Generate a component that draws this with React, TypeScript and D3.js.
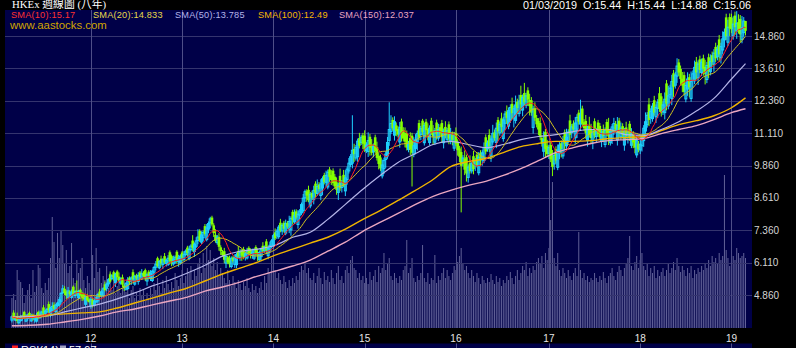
import React from 'react';
import * as d3 from 'd3';

// ---- weekly candles (25 Feb 2011 .. 1 Mar 2019) ----
const opens = [
3.89,4.18,3.89,4.04,3.79,3.87,3.96,4.20,3.85,3.95,
4.17,3.86,4.10,3.92,3.85,4.20,3.99,4.07,4.38,4.15,
4.21,4.51,4.15,4.27,4.48,4.22,4.45,4.48,4.62,4.95,
5.10,4.99,4.77,5.00,4.77,5.18,4.84,5.03,4.75,5.06,
4.88,4.90,4.50,4.81,4.69,4.43,4.68,4.47,4.60,4.63,
4.99,4.87,4.83,5.27,5.12,5.29,5.66,5.49,5.74,5.33,
5.77,5.57,5.32,5.54,5.23,5.08,5.11,5.53,5.41,5.74,
5.28,5.62,5.38,5.73,5.50,5.72,5.82,5.40,5.76,5.52,
5.42,5.74,5.93,6.28,5.91,6.26,6.04,6.36,6.08,6.04,
6.51,6.36,6.06,6.13,6.53,6.15,6.10,6.50,6.23,6.42,
6.69,6.27,6.61,6.96,6.54,6.74,6.96,7.33,6.90,7.07,
7.52,7.00,7.40,7.65,7.85,7.55,7.18,6.88,7.10,6.70,
6.53,6.55,6.09,6.32,6.25,5.96,6.31,6.04,6.03,6.55,
6.31,6.58,6.63,6.32,6.29,6.68,6.60,6.39,6.28,6.71,
6.52,6.22,6.34,6.76,6.56,6.93,6.38,6.57,6.74,6.80,
7.28,7.17,7.11,7.65,7.33,7.65,7.25,7.65,7.40,7.37,
8.07,7.68,8.09,7.58,7.94,8.03,8.12,8.61,8.86,8.92,
8.30,8.80,8.54,9.16,8.78,9.13,8.70,8.99,9.49,9.21,
9.03,9.71,9.49,9.66,9.43,9.21,8.82,9.46,9.01,9.50,
8.88,9.32,9.65,9.90,9.95,10.50,10.15,10.20,10.92,10.75,
11.02,11.01,10.44,10.40,10.97,10.67,10.39,10.95,10.57,10.24,
10.17,9.46,9.74,10.09,10.23,10.83,11.17,11.62,11.03,11.41,
11.27,10.77,11.56,11.23,11.11,11.10,10.48,10.92,11.01,10.29,
10.52,10.77,11.50,11.06,11.59,10.74,11.55,11.27,10.75,11.59,
11.20,10.76,11.52,10.92,11.34,11.50,10.74,11.35,10.87,11.45,
10.79,11.06,10.53,11.12,10.77,10.52,10.38,9.94,10.12,10.18,
9.40,9.95,9.65,10.22,9.85,10.28,9.58,10.35,10.15,10.05,
10.95,10.50,11.04,10.22,10.77,11.14,10.75,11.62,11.12,11.68,
10.90,11.49,11.94,11.38,11.62,12.24,11.69,11.60,12.32,11.87,
12.58,12.00,12.66,12.19,12.76,12.39,12.38,11.33,12.06,11.69,
11.58,11.50,10.92,10.41,11.16,10.63,10.33,10.65,10.24,9.92,
10.49,9.79,10.32,10.72,10.23,11.14,10.62,10.82,11.60,11.13,
11.48,10.93,11.26,11.90,11.46,12.06,11.53,11.58,10.82,11.40,
11.25,10.82,11.57,10.98,11.52,11.39,10.79,11.22,10.67,11.54,
11.20,10.74,10.91,11.15,11.47,10.85,11.59,10.97,11.38,10.65,
11.33,10.93,11.47,10.64,11.08,10.88,10.27,10.70,10.46,10.62,
10.82,11.19,11.44,12.22,11.71,11.67,12.38,11.74,12.06,12.65,
12.53,11.94,11.90,13.03,12.16,12.59,12.45,13.42,12.96,13.31,
13.84,13.59,13.21,13.35,12.43,12.81,13.27,12.45,13.14,13.13,
13.86,13.24,13.96,13.45,14.00,13.67,13.18,14.04,13.48,14.12,
13.77,14.44,14.06,14.73,14.02,14.32,14.71,15.58,14.62,15.59,
15.57,14.87,15.65,15.05,15.40,15.52,14.73,14.99,15.44];

const highs = [
4.07,4.27,4.03,4.18,3.97,4.09,4.10,4.25,4.12,4.13,
4.22,4.13,4.14,4.06,4.16,4.25,4.26,4.25,4.47,4.29,
4.36,4.61,4.40,4.58,4.58,4.52,4.60,4.78,4.97,5.25,
5.20,5.04,5.17,5.05,5.07,5.23,5.04,5.42,5.05,5.11,
4.98,4.95,4.85,4.91,4.74,4.83,4.73,4.72,4.80,4.93,
5.10,5.04,5.16,5.38,5.34,5.51,5.77,5.66,5.80,5.72,
5.83,5.73,5.54,5.65,5.29,5.36,5.55,5.58,5.58,5.85,
5.64,5.68,5.74,5.79,5.86,5.78,5.88,5.70,5.82,5.82,
5.84,5.98,6.17,6.34,6.21,6.38,6.28,6.48,6.26,6.40,
6.58,6.42,6.38,6.39,6.59,6.41,6.43,6.56,6.55,6.62,
6.76,6.76,6.82,7.17,6.89,7.09,7.40,7.40,7.32,7.35,
7.60,7.60,7.70,7.88,7.92,7.63,7.40,7.18,7.25,6.78,
6.60,6.68,6.42,6.38,6.38,6.35,6.38,6.43,6.49,6.75,
6.63,6.64,6.72,6.52,6.68,6.74,6.66,6.65,6.67,6.78,
6.66,6.57,6.69,6.90,6.77,7.02,6.73,6.92,7.02,7.22,
7.43,7.40,7.56,7.80,7.63,7.72,7.77,7.72,7.92,7.90,
8.15,8.16,8.17,8.14,8.18,8.43,8.76,8.93,8.94,9.08,
8.84,8.89,9.08,9.25,9.32,9.22,9.33,9.44,9.58,9.66,
9.70,9.80,9.68,9.75,9.53,9.40,9.20,9.74,9.30,9.69,
9.68,9.82,10.15,10.30,11.80,10.70,10.65,10.90,11.12,11.05,
11.12,11.22,10.76,11.14,11.08,10.88,10.71,11.05,10.78,10.34,
10.28,10.09,10.16,10.41,10.96,12.30,11.80,11.72,11.76,11.52,
11.38,11.54,11.67,11.34,11.33,11.21,10.81,11.14,11.12,10.95,
11.07,11.21,11.62,11.39,11.66,11.51,11.66,11.49,11.41,11.70,
11.42,11.31,11.63,11.47,11.45,11.62,11.29,11.57,11.31,11.56,
11.31,11.17,11.16,11.33,10.87,10.62,10.59,10.26,10.44,10.28,
9.90,10.25,10.05,10.42,10.15,10.38,10.38,10.45,10.45,10.75,
11.06,10.83,11.26,10.99,11.43,11.25,11.52,11.73,11.56,11.90,
11.74,11.97,12.18,12.10,12.22,12.48,12.17,12.56,12.44,12.59,
12.94,12.60,13.05,12.67,12.88,12.63,12.50,12.17,12.30,11.81,
11.69,11.72,11.03,11.18,11.27,10.85,10.66,10.76,10.46,10.36,
10.60,10.67,10.76,10.83,11.00,11.25,11.28,11.26,11.82,11.46,
11.60,11.73,11.84,12.01,12.40,12.17,11.65,11.81,11.40,11.74,
11.47,11.26,11.68,11.31,11.62,11.50,11.23,11.44,11.33,11.65,
11.70,11.29,11.46,11.70,11.58,11.73,11.70,11.52,11.49,11.31,
11.55,11.26,11.58,11.30,11.19,10.99,11.04,10.81,10.85,11.06,
11.42,11.91,11.92,12.46,12.07,12.27,12.55,12.22,12.42,12.89,
12.66,12.33,12.68,13.16,12.94,12.98,13.36,13.55,13.48,14.00,
13.97,13.72,13.47,13.48,13.08,13.46,13.40,13.49,13.53,13.91,
14.05,13.92,14.10,13.99,14.14,13.94,13.86,14.18,14.15,14.26,
14.35,14.60,14.50,14.90,14.60,15.04,15.15,15.72,15.49,15.73,
15.72,15.62,15.80,15.82,15.70,15.67,15.63,15.59,15.44];

const lows = [
3.80,3.91,3.85,3.77,3.72,3.83,3.87,3.93,3.81,3.86,
3.95,3.82,3.87,3.79,3.80,3.93,3.94,4.02,4.06,4.06,
4.16,4.16,4.00,4.22,4.23,4.17,4.40,4.38,4.52,4.90,
4.85,4.69,4.72,4.80,4.72,4.83,4.74,4.83,4.70,4.81,
4.63,4.65,4.40,4.61,4.54,4.33,4.38,4.42,4.55,4.53,
4.77,4.76,4.78,5.00,5.01,5.18,5.33,5.44,5.41,5.17,
5.44,5.35,5.26,5.15,5.01,5.03,5.06,5.25,5.25,5.41,
5.22,5.44,5.26,5.43,5.44,5.54,5.40,5.22,5.52,5.40,
5.36,5.62,5.81,5.92,5.85,5.96,5.86,6.06,5.96,5.98,
6.05,5.97,5.99,6.06,6.07,5.95,6.03,6.17,6.16,6.35,
6.34,6.20,6.54,6.54,6.33,6.67,6.82,6.91,6.83,6.93,
7.15,6.93,7.25,7.43,7.51,7.10,6.88,6.80,6.57,6.40,
6.34,6.09,5.90,6.05,5.92,5.89,6.11,5.91,5.90,6.29,
6.18,6.18,6.24,6.19,6.23,6.42,6.27,6.26,6.21,6.39,
6.17,6.15,6.20,6.48,6.49,6.44,6.24,6.50,6.67,6.66,
6.98,7.02,7.03,7.28,7.18,7.27,7.17,7.42,7.25,7.15,
7.59,7.60,7.77,7.42,7.78,7.95,8.04,8.45,8.46,8.44,
8.21,8.53,8.36,8.62,8.69,8.86,8.52,8.72,9.13,9.03,
8.94,9.23,9.11,9.08,8.96,8.73,8.53,8.88,8.82,9.03,
8.68,9.12,9.55,9.80,9.75,10.00,10.05,10.00,10.52,10.65,
10.49,10.38,10.34,10.19,10.24,10.25,10.18,10.32,10.05,9.71,
9.65,9.36,9.53,9.77,10.12,10.62,11.07,11.20,10.82,10.99,
10.94,10.55,10.79,10.79,10.56,10.44,10.37,10.26,9.05,10.18,
10.30,10.44,10.84,10.84,11.04,10.63,11.00,10.83,10.64,11.04,
10.65,10.65,10.86,10.81,11.01,10.73,10.52,10.91,10.76,10.68,
10.68,10.64,10.42,10.60,10.24,9.99,8.05,9.83,9.49,9.24,
9.20,9.55,9.55,9.52,9.65,9.78,9.48,9.85,9.85,9.95,
10.29,10.39,10.38,10.00,10.66,10.81,10.53,10.85,11.01,11.13,
10.78,11.25,11.46,11.26,11.50,11.64,11.33,11.48,11.84,11.75,
11.98,11.76,12.18,12.07,12.16,11.79,11.78,11.09,11.58,11.33,
11.03,10.84,10.59,10.19,10.17,10.19,10.11,9.99,9.45,9.70,
9.94,9.68,10.10,10.17,10.12,10.48,10.51,10.71,10.83,10.91,
11.14,10.70,10.92,11.44,11.23,11.37,11.19,10.89,10.59,10.94,
10.70,10.49,10.91,10.76,10.97,10.84,10.57,10.78,10.56,10.99,
10.65,10.63,10.69,11.04,11.14,10.63,10.93,10.86,10.94,10.43,
10.89,10.71,10.81,10.53,10.53,10.33,10.16,10.37,10.30,10.40,
10.58,11.07,11.32,11.38,11.47,11.55,11.78,11.50,11.70,11.93,
11.75,11.81,11.64,11.99,12.03,12.46,12.19,12.51,12.83,13.05,
13.32,12.94,12.69,12.57,12.30,12.55,12.49,12.32,12.88,13.00,
13.18,12.97,13.42,13.31,13.33,12.99,13.04,13.23,13.34,13.71,
13.48,13.86,13.92,13.86,13.80,14.17,14.42,14.71,14.47,14.86,
14.97,14.72,14.90,14.75,14.95,14.62,14.58,14.84,14.88];

const closes = [
4.02,3.95,3.98,3.86,3.92,4.00,4.05,3.97,4.03,4.08,
3.99,4.04,3.96,4.01,4.07,4.02,4.12,4.20,4.15,4.24,
4.31,4.26,4.35,4.42,4.33,4.47,4.55,4.68,4.92,5.10,
4.95,4.84,5.02,4.90,4.97,4.88,4.99,4.93,5.00,4.86,
4.78,4.70,4.80,4.66,4.59,4.68,4.48,4.62,4.75,4.88,
4.82,4.98,5.10,5.05,5.28,5.45,5.38,5.60,5.52,5.66,
5.55,5.40,5.48,5.26,5.12,5.30,5.44,5.36,5.52,5.46,
5.58,5.50,5.62,5.55,5.68,5.60,5.52,5.64,5.58,5.70,
5.78,5.92,6.05,5.98,6.15,6.08,6.22,6.12,6.20,6.28,
6.18,6.10,6.25,6.32,6.20,6.28,6.36,6.30,6.42,6.55,
6.48,6.62,6.75,6.68,6.82,6.95,7.10,6.98,7.18,7.28,
7.22,7.45,7.62,7.80,7.58,7.25,6.95,7.10,6.72,6.55,
6.40,6.22,6.35,6.12,6.05,6.28,6.18,6.30,6.42,6.35,
6.50,6.38,6.30,6.45,6.55,6.48,6.40,6.52,6.60,6.45,
6.38,6.50,6.62,6.55,6.70,6.58,6.66,6.78,6.95,7.15,
7.05,7.32,7.48,7.35,7.55,7.42,7.62,7.50,7.70,7.82,
7.75,7.92,7.85,7.98,8.10,8.35,8.60,8.85,8.70,8.52,
8.75,8.62,8.90,8.80,9.05,8.95,9.15,9.35,9.22,9.48,
9.60,9.42,9.30,9.18,9.05,8.92,9.10,8.98,9.20,9.12,
9.38,9.72,9.95,10.20,10.45,10.30,10.55,10.80,10.62,10.95,
10.70,10.48,10.65,10.82,10.55,10.35,10.60,10.42,10.15,9.92,
9.75,9.88,10.05,10.30,10.75,11.25,11.48,11.30,11.55,11.20,
11.05,11.32,11.12,10.90,10.78,10.55,10.70,10.48,10.35,10.62,
10.85,11.10,10.95,11.28,11.15,11.40,11.22,11.05,11.30,11.15,
10.98,11.20,11.08,11.25,11.12,10.95,11.18,11.02,11.20,10.90,
11.10,10.85,11.05,10.70,10.45,10.20,9.85,10.15,9.70,9.55,
9.80,9.65,9.95,9.72,10.05,9.88,10.18,10.05,10.35,10.55,
10.40,10.72,10.60,10.88,11.10,10.92,11.30,11.18,11.45,11.35,
11.62,11.85,11.70,11.98,12.10,11.88,12.05,12.20,12.08,12.35,
12.22,12.48,12.30,12.55,12.40,12.15,11.90,12.05,11.70,11.45,
11.25,10.95,10.70,10.85,10.50,10.30,10.55,10.10,9.80,10.25,
10.05,10.45,10.65,10.50,10.78,10.70,10.95,11.15,11.05,11.35,
11.25,11.50,11.72,11.55,11.80,11.48,11.30,11.12,11.28,11.05,
10.92,11.15,11.02,11.20,11.08,10.95,11.12,11.00,11.22,11.10,
10.98,11.18,11.35,11.48,11.25,11.40,11.15,11.30,11.05,11.20,
11.00,11.15,10.92,11.08,10.75,10.55,10.82,10.48,10.68,10.95,
11.30,11.55,11.80,11.62,11.95,12.15,11.90,12.10,12.30,12.05,
11.88,12.20,12.42,12.25,12.55,12.85,13.10,12.90,13.35,13.70,
13.45,13.20,12.95,12.70,12.95,13.20,12.88,13.10,13.40,13.65,
13.45,13.78,13.55,13.85,13.60,13.40,13.72,13.50,13.88,13.85,
14.20,14.00,14.35,14.15,14.45,14.75,15.00,14.85,15.20,15.15,
15.12,15.32,15.20,15.35,15.10,14.92,15.18,15.44,15.06];

const volumes = [
30,34,28,58,48,46,40,25,32,38,
44,30,58,36,42,63,60,40,35,45,
38,50,70,111,86,60,95,70,98,83,
65,78,55,62,85,50,45,68,55,60,
70,48,40,52,45,38,73,50,80,56,
60,45,52,48,62,40,55,38,50,35,
42,46,35,40,48,36,44,30,38,42,
30,36,28,40,33,38,27,35,30,40,
34,45,38,50,42,35,48,40,52,44,
38,46,40,55,48,42,50,58,45,52,
60,55,62,48,58,52,65,70,55,75,
60,82,68,78,62,70,58,66,52,60,
55,50,45,58,48,42,52,46,40,48,
44,38,46,42,50,40,36,44,38,42,
35,40,46,38,52,45,60,55,70,62,
58,50,55,48,44,52,46,40,48,42,
50,45,52,48,56,62,58,66,55,60,
50,48,55,45,52,60,50,44,56,48,
52,46,58,50,44,55,62,48,52,45,
58,62,55,68,72,60,58,50,55,48,
52,45,50,44,56,48,52,58,46,62,
55,60,75,58,65,70,52,48,55,50,
45,52,48,58,62,88,55,60,70,50,
46,52,48,55,83,50,46,55,44,50,
48,73,45,52,48,55,60,50,58,52,
48,55,62,58,66,72,80,65,58,62,
55,50,58,52,46,55,50,44,52,48,
45,50,46,54,48,44,52,46,50,42,
48,45,52,48,56,50,44,52,58,48,
55,62,58,66,52,60,55,62,58,66,
70,65,72,60,75,68,80,108,146,70,
62,75,58,52,60,55,50,58,52,48,
55,60,52,96,58,50,55,48,52,46,
50,48,55,50,46,52,48,56,50,45,
52,55,60,52,48,56,62,58,52,60,
65,70,92,62,58,66,72,60,68,75,
62,58,65,52,60,55,62,50,58,52,
56,60,52,58,64,55,60,66,58,70,
62,56,62,58,52,60,55,62,50,58,
54,60,56,62,58,65,60,68,62,72,
66,70,64,75,68,72,153,78,70,62,
66,72,68,80,75,70,72,75,70];

// long averages, one value every 10 weeks (plus the last week)
const smaSampleWeeks = [0,10,20,30,40,50,60,70,80,90,100,110,120,130,140,150,160,170,180,190,200,
  210,220,230,240,250,260,270,280,290,300,310,320,330,340,350,360,370,380,390,400,410,418];
const sma50 = [4.01,4.03,4.05,4.21,4.36,4.51,4.71,4.94,5.21,5.44,5.71,6.01,6.36,6.55,6.63,6.78,7.09,7.28,
  7.78,8.36,8.94,9.48,9.98,10.32,10.67,10.79,10.67,10.55,10.67,10.86,10.98,11.05,11.17,11.25,11.25,11.05,
  11.02,11.25,11.55,11.96,12.45,13.20,13.79];
const sma100 = [4.01,4.05,4.09,4.13,4.17,4.21,4.36,4.55,4.74,4.94,5.13,5.40,5.67,5.90,6.13,6.40,6.63,6.86,
  7.09,7.40,7.78,8.13,8.51,8.90,9.32,9.82,10.01,10.13,10.36,10.59,10.71,10.79,10.79,10.82,10.90,10.94,
  10.98,11.21,11.44,11.59,11.78,12.09,12.47];
const sma150 = [3.67,3.69,3.73,3.82,3.92,4.05,4.21,4.32,4.48,4.63,4.78,5.01,5.17,5.36,5.59,5.78,5.98,6.21,
  6.55,6.90,7.32,7.67,8.01,8.36,8.67,8.90,9.09,9.25,9.48,9.74,10.05,10.36,10.55,10.71,10.82,10.86,
  10.90,11.09,11.25,11.40,11.63,11.90,12.05];

const yTicks = [4.86, 6.11, 7.36, 8.61, 9.86, 11.11, 12.36, 13.61, 14.86];

const legend = [
  { label: 'SMA(10):15.17', color: '#ff3030', x: 11 },
  { label: 'SMA(20):14.833', color: '#e6d94a', x: 93 },
  { label: 'SMA(50):13.785', color: '#b4b4e8', x: 175 },
  { label: 'SMA(100):12.49', color: '#f5b800', x: 258 },
  { label: 'SMA(150):12.037', color: '#eaa6c0', x: 339 },
];

const NAVY = '#000048';
const CYAN = '#1ed2ff';
const LIME = '#84ff00';
const SANS = '"Liberation Sans", Arial, sans-serif';

export default function App() {
  const n = closes.length;
  const L = 5, R = 752, T = 10, B = 328;
  const dates = d3.timeFriday.range(new Date(2011, 1, 25), new Date(2019, 2, 2));
  const x = d3.scaleLinear().domain([0, n - 1]).range([11.9, 745.5]);
  const y = d3.scaleLinear().domain([4.86, 14.86]).range([295, 36]);
  const yVol = d3.scaleLinear().domain([0, 160]).range([B, B - 160]);

  const movAvg = (k: number) =>
    closes.map((_, i) => d3.mean(closes.slice(Math.max(0, i - k + 1), i + 1)) as number);
  const sma10 = movAvg(10);
  const sma20 = movAvg(20);

  const lineIdx = d3.line<number>().x((_, i) => x(i)).y((v) => y(v));
  const lineSamp = d3
    .line<number>()
    .x((_, i) => x(smaSampleWeeks[i]))
    .y((v) => y(v))
    .curve(d3.curveMonotoneX);

  const yearIdx: number[] = [];
  dates.forEach((d, i) => {
    if (i > 0 && d.getFullYear() !== dates[i - 1].getFullYear()) yearIdx.push(i);
  });
  const fmtYear = d3.timeFormat('%y');

  return (
    <svg
      width={796}
      height={348}
      style={{ position: 'absolute', left: 0, top: 0, background: '#000', display: 'block' }}
    >
      <defs>
        <clipPath id="plotClip">
          <rect x={L} y={T} width={R - L} height={B - T} />
        </clipPath>
      </defs>
      <rect x={0} y={0} width={796} height={348} fill="#000" />
      <rect x={L} y={T} width={R - L} height={B - T} fill={NAVY} />

      <g clipPath="url(#plotClip)">
        {volumes.map((v, i) => (
          <line key={'v' + i} x1={x(i)} x2={x(i)} y1={B} y2={yVol(v)} stroke="#7272a6" strokeWidth={1} opacity={0.85} />
        ))}
        {yTicks.map((t) => (
          <line key={'h' + t} x1={L} x2={R} y1={Math.round(y(t)) + 0.5} y2={Math.round(y(t)) + 0.5} stroke="#34346e" strokeWidth={1} />
        ))}
        {yearIdx.map((i) => (
          <line key={'g' + i} x1={Math.round(x(i)) + 0.5} x2={Math.round(x(i)) + 0.5} y1={T} y2={B} stroke="#4e4e88" strokeWidth={1} />
        ))}
        {closes.map((c, i) => {
          const o = opens[i];
          const up = c >= o;
          const col = up ? CYAN : LIME;
          const cx = x(i);
          const top = y(Math.max(o, c));
          const h = Math.max(1, Math.abs(y(o) - y(c)));
          return (
            <g key={'c' + i}>
              <line x1={cx} x2={cx} y1={y(highs[i])} y2={y(lows[i])} stroke={col} strokeWidth={1} />
              {up ? (
                <rect x={cx - 1} y={top} width={2} height={h} fill="none" stroke={col} strokeWidth={1} />
              ) : (
                <rect x={cx - 1.3} y={top} width={2.6} height={h} fill={col} />
              )}
            </g>
          );
        })}
        <path d={lineSamp(sma150) || ''} fill="none" stroke="#eaa6c0" strokeWidth={1.4} />
        <path d={lineSamp(sma100) || ''} fill="none" stroke="#f0b400" strokeWidth={1.4} />
        <path d={lineSamp(sma50) || ''} fill="none" stroke="#b4b4e8" strokeWidth={1.2} />
        <path d={lineIdx(sma20) || ''} fill="none" stroke="#d2c21e" strokeWidth={1} />
        <path d={lineIdx(sma10) || ''} fill="none" stroke="#ff2020" strokeWidth={1} />
      </g>

      {legend.map((l) => (
        <text key={l.label} x={l.x} y={17.5} fill={l.color} fontSize={9.2} fontFamily={SANS} letterSpacing={0.2}>
          {l.label}
        </text>
      ))}
      <text x={10} y={29} fill="#d0a400" fontSize={11.4} fontFamily={SANS}>
        www.aastocks.com
      </text>

      <text x={12} y={8.2} fill="#fff" fontSize={10.8} fontFamily={'"Liberation Serif", "Noto Sans CJK TC", serif'}>
        HKEx 週線圖 (八年)
      </text>
      <text x={751} y={8.6} fill="#fff" fontSize={10.8} fontFamily={SANS} textAnchor="end" style={{ whiteSpace: 'pre' }}>
        {'01/03/2019  O:15.44  H:15.44  L:14.88  C:15.06'}
      </text>

      {yTicks.map((t) => (
        <text key={'yl' + t} x={754} y={y(t)} dy="0.35em" fill="#d4d4d4" fontSize={10} fontFamily={SANS}>
          {t.toFixed(3)}
        </text>
      ))}

      {yearIdx.map((i) => (
        <text key={'xl' + i} x={x(i)} y={342} fill="#e6e6e6" fontSize={10} fontFamily={SANS} textAnchor="middle">
          {fmtYear(dates[i])}
        </text>
      ))}

      <rect x={L} y={343.5} width={R - L} height={5} fill={NAVY} />
      {yearIdx.map((i) => (
        <line key={'rg' + i} x1={Math.round(x(i)) + 0.5} x2={Math.round(x(i)) + 0.5} y1={343.5} y2={348} stroke="#4e4e88" />
      ))}
      <rect x={12} y={345.5} width={6} height={3} fill="#ff2020" />
      <text x={21} y={354} fill="#fff" fontSize={11} fontFamily={SANS}>RSI(14)</text>
      <rect x={60} y={345.5} width={6} height={3} fill="#a0a0c0" />
      <text x={69} y={354} fill="#fff" fontSize={11} fontFamily={SANS}>57.97</text>
    </svg>
  );
}
